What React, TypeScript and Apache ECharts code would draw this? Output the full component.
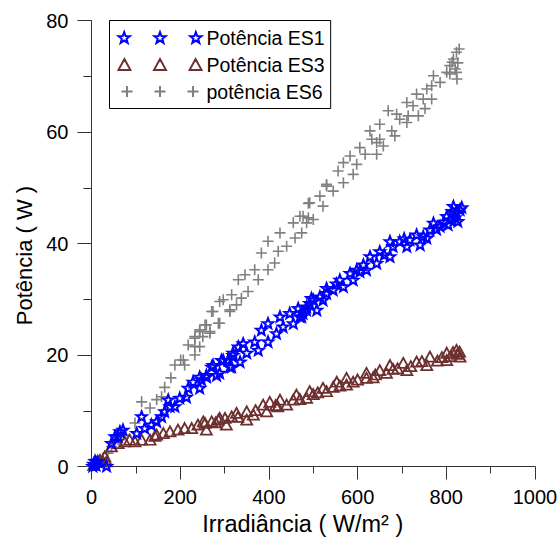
import React, { useEffect, useRef } from "react";
import * as echarts from "echarts";

const X_TICKS = [0, 200, 400, 600, 800, 1000];
const Y_TICKS = [0, 20, 40, 60, 80];
const SERIES_NAMES = ["Potência ES1", "Potência ES3", "potência ES6"];
const X_TITLE = "Irradiância ( W/m² )";
const Y_TITLE = "Potência ( W )";

// ES1 (blue stars) [irradiance, power]
const es1: number[][] = [
  [3, 0.1], [5, 0.5], [8, 1.0], [10, 0.3], [14, 0.9], [34, 0.1], [45, 4.2], [53, 5.4], [60, 5.4], [64, 6.3],
  [71, 6.6], [102, 6.0], [113, 9.0], [120, 6.9], [135, 7.5], [147, 8.1], [158, 9.0], [165, 9.9],
  [173, 12.0], [177, 10.8], [188, 10.8], [199, 12.3], [214, 12.5], [218, 14.1], [229, 15.2],
  [244, 14.1], [248, 15.6], [259, 16.1], [244, 16.1], [259, 16.4], [271, 17.9], [274, 18.2],
  [282, 16.4], [289, 16.8], [293, 19.1], [297, 19.1], [308, 19.1], [312, 17.9], [316, 17.9],
  [319, 20.4], [319, 20.0], [331, 21.5], [335, 18.8], [342, 22.1], [350, 20.4], [368, 22.4],
  [376, 20.9], [383, 24.5], [398, 22.4], [398, 25.7], [417, 23.9], [425, 26.9], [432, 25.1],
  [447, 27.5], [455, 25.7], [466, 28.4], [470, 26.9], [474, 26.9], [477, 27.5], [485, 28.7],
  [485, 28.1], [496, 30.2], [500, 29.9], [508, 28.1], [515, 30.5], [522, 29.9], [530, 32.0],
  [530, 31.1], [545, 31.7], [560, 33.5], [568, 32.3], [583, 34.7], [590, 33.5], [598, 35.3],
  [613, 36.2], [620, 35.3], [628, 37.7], [643, 36.5], [650, 38.6], [673, 37.7], [673, 40.4],
  [680, 39.5], [695, 40.4], [711, 39.5], [718, 40.7], [733, 41.6], [741, 39.8], [756, 41.0],
  [763, 42.5], [771, 43.7], [786, 43.1], [801, 44.9], [816, 46.7], [823, 45.5], [831, 46.1],
  [820, 44.7], [808, 44.3], [826, 44.0], [835, 46.5], [804, 43.4], [813, 45.8], [794, 43.9],
  [778, 42.6], [748, 41.3], [705, 40.9], [660, 38.0], [605, 35.0], [552, 32.8], [492, 29.3],
];

// ES3 (brown triangles)
const es3: number[][] = [
  [5, 0.3], [12, 0.8], [19, 1.2], [25, 1.0], [34, 0.9], [30, 1.8], [45, 3.6], [60, 4.2], [75, 4.5],
  [86, 4.8], [98, 4.5], [113, 4.8], [132, 4.8], [143, 5.5], [147, 5.7], [162, 6.0], [177, 6.3],
  [195, 6.6], [210, 6.9], [226, 6.9], [240, 7.5], [256, 7.8], [271, 8.1], [286, 8.4], [301, 8.7],
  [316, 9.0], [252, 8.1], [289, 8.7], [327, 9.6], [350, 9.9], [387, 11.1], [402, 11.6],
  [425, 12.0], [462, 12.9], [492, 13.5], [522, 14.1], [553, 15.2], [575, 15.9], [620, 16.8],
  [650, 17.3], [673, 18.2], [703, 18.6], [733, 18.8], [763, 19.7], [801, 20.4], [823, 20.9],
  [259, 6.6], [304, 7.5], [350, 8.4], [395, 9.9], [440, 11.1], [485, 12.3], [530, 13.5],
  [575, 14.7], [620, 15.9], [665, 16.8], [711, 17.3], [756, 18.2], [801, 19.1], [831, 19.7],
  [370, 10.1], [415, 11.0], [455, 12.0], [510, 13.3], [545, 14.3], [600, 15.6], [640, 16.5],
  [690, 17.6], [720, 18.0], [780, 19.0], [810, 19.8], [825, 20.2], [815, 20.5], [830, 20.6],
  [280, 7.9], [330, 8.9], [365, 9.3], [420, 10.8], [470, 12.1], [500, 13.0], [560, 14.5],
  [590, 15.2], [635, 16.0], [680, 17.5], [745, 18.9], [790, 19.6],
];

// ES6 (grey plus)
const es6: number[][] = [
  [1, 0.1], [7, 0.4], [14, 0.8], [19, 1.2], [25, 1.5], [37, 2.4], [45, 3.6], [60, 4.8], [75, 5.7],
  [98, 7.8], [113, 11.6], [132, 10.5], [147, 12.0], [158, 12.5], [165, 14.2], [179, 15.9],
  [188, 18.2], [201, 19.1], [210, 18.2], [218, 21.8], [233, 23.3], [244, 24.2], [256, 25.4],
  [271, 27.8], [289, 29.6], [233, 21.5], [251, 23.3], [267, 24.2], [286, 25.7], [312, 28.1],
  [207, 19.1], [233, 20.0], [244, 21.5], [233, 23.0], [267, 23.9], [244, 24.5], [259, 25.4],
  [289, 25.7], [274, 27.8], [312, 27.8], [327, 29.0], [297, 29.9], [338, 30.2], [316, 30.8],
  [353, 31.4], [331, 33.5], [376, 33.5], [346, 34.4], [368, 35.3], [398, 35.3], [413, 36.5],
  [383, 38.3], [421, 38.6], [440, 39.5], [398, 40.4], [459, 41.0], [425, 41.9], [474, 41.9],
  [455, 43.7], [470, 44.9], [489, 44.6], [489, 47.2], [522, 46.7], [515, 48.5], [530, 50.6],
  [485, 43.7], [500, 44.3], [477, 44.9], [492, 47.3], [545, 49.4], [530, 50.3], [568, 50.9],
  [556, 53.0], [590, 52.4], [598, 54.2], [568, 54.5], [583, 55.7], [617, 56.0], [643, 56.0],
  [605, 57.2], [658, 57.5], [643, 58.1], [632, 58.7], [650, 58.7], [684, 59.3], [628, 60.2],
  [677, 60.2], [650, 61.4], [711, 61.7], [695, 62.3], [737, 62.9], [714, 62.9], [688, 63.2],
  [669, 63.8], [752, 64.2], [725, 64.7], [711, 65.3], [767, 65.9], [748, 65.9], [733, 66.8],
  [756, 67.7], [767, 68.3], [786, 68.9], [771, 70.1], [801, 70.7], [823, 70.7], [808, 71.9],
  [816, 73.1], [823, 74.3], [808, 70.4], [820, 71.3], [826, 72.4], [813, 72.5], [824, 69.5],
  [829, 74.9],
];

const FONT = "Arial, 'Liberation Sans', sans-serif";
const BLUE = "#0000ff";
const BROWN = "#6e2f2f";
const GREY = "#808080";
const AXIS_COLOR = "#333333";

function starPts(cx: number, cy: number, R: number, r: number): string {
  let s = "";
  for (let i = 0; i < 10; i++) {
    const rad = i % 2 === 0 ? R : r;
    const a = -Math.PI / 2 + (i * Math.PI) / 5;
    const x = cx + rad * Math.cos(a);
    const y = cy + rad * Math.sin(a);
    s += (i === 0 ? "M" : "L") + x.toFixed(2) + " " + y.toFixed(2) + " ";
  }
  return s + "Z ";
}

const STAR_SYMBOL = "path://" + starPts(0, 0, 10, 4.2);
const PLUS_SYMBOL = "path://M-6 0 L6 0 M0 -6 L0 6";
const SPACING = 33;
const legendStar =
  "path://" + [0, 1, 2].map((i) => starPts(5.5 + i * SPACING, 5.5, 5.5, 2.3)).join("");
const legendTri =
  "path://" +
  [0, 1, 2]
    .map((i) => {
      const cx = 5.5 + i * SPACING;
      return `M${cx - 5.5} 10.5 L${cx} 0.5 L${cx + 5.5} 10.5 Z `;
    })
    .join("");
const legendPlus =
  "path://" +
  [0, 1, 2]
    .map((i) => {
      const cx = 5.5 + i * SPACING;
      return `M${cx - 5.5} 5.5 L${cx + 5.5} 5.5 M${cx} 0 L${cx} 11 `;
    })
    .join("");

export default function App() {
  const ref = useRef<HTMLDivElement>(null);
  useEffect(() => {
    if (!ref.current) return;
    const chart = echarts.init(ref.current, undefined, { renderer: "svg" });
    const axisCommon = {
      axisLine: { show: true, lineStyle: { color: AXIS_COLOR, width: 1 } },
      axisTick: { show: true, inside: false, length: 13, lineStyle: { color: AXIS_COLOR } },
      minorTick: { show: true, splitNumber: 2, length: 7, lineStyle: { color: AXIS_COLOR } },
      splitLine: { show: false },
      axisLabel: {
        color: "#000",
        fontSize: 20,
        fontFamily: FONT,
        formatter: (v: number) => String(v),
      },
    };
    chart.setOption({
      animation: false,
      backgroundColor: "#ffffff",
      grid: {
        left: 91.5,
        top: 20.5,
        width: 443.5,
        height: 446,
        containLabel: false,
        outerBoundsMode: "none",
      },
      xAxis: {
        type: "value",
        min: X_TICKS[0],
        max: X_TICKS[X_TICKS.length - 1],
        interval: X_TICKS[1] - X_TICKS[0],
        ...axisCommon,
        axisLabel: { ...axisCommon.axisLabel, margin: 20 },
        name: X_TITLE,
        nameLocation: "middle",
        nameGap: 45,
        nameTextStyle: { color: "#000", fontSize: 23.5, fontFamily: FONT, padding: [0, 21, 0, 0] },
      },
      yAxis: {
        type: "value",
        min: Y_TICKS[0],
        max: Y_TICKS[Y_TICKS.length - 1],
        interval: Y_TICKS[1] - Y_TICKS[0],
        ...axisCommon,
        axisTick: { ...axisCommon.axisTick, length: 14 },
        minorTick: { ...axisCommon.minorTick, length: 8 },
        axisLabel: { ...axisCommon.axisLabel, margin: 23 },
        name: Y_TITLE,
        nameLocation: "middle",
        nameGap: 56,
        nameTextStyle: { color: "#000", fontSize: 22, fontFamily: FONT, padding: [0, 24, 0, 0] },
      },
      legend: {
        show: true,
        orient: "vertical",
        left: 109.5,
        top: 20.5,
        padding: [7, 6, 7, 8],
        itemGap: 7,
        itemWidth: 83,
        itemHeight: 11,
        borderColor: "#000",
        borderWidth: 1,
        selectedMode: false,
        textStyle: { color: "#000", fontSize: 19.5, fontFamily: FONT, lineHeight: 20 },
        data: [
          { name: SERIES_NAMES[0], icon: legendStar },
          { name: SERIES_NAMES[1], icon: legendTri },
          { name: SERIES_NAMES[2], icon: legendPlus },
        ],
      },
      series: [
        {
          name: SERIES_NAMES[2],
          type: "scatter",
          data: es6,
          symbol: PLUS_SYMBOL,
          symbolSize: 11,
          itemStyle: { color: "transparent", borderColor: GREY, borderWidth: 1.6, opacity: 1 },
          emphasis: { disabled: true },
          silent: true,
          z: 2,
        },
        {
          name: SERIES_NAMES[1],
          type: "scatter",
          data: es3,
          symbol: "triangle",
          symbolSize: [11, 10],
          itemStyle: { color: "transparent", borderColor: BROWN, borderWidth: 1.8, opacity: 1 },
          emphasis: { disabled: true },
          silent: true,
          z: 3,
        },
        {
          name: SERIES_NAMES[0],
          type: "scatter",
          data: es1,
          symbol: STAR_SYMBOL,
          symbolSize: [10.5, 10],
          itemStyle: { color: "transparent", borderColor: BLUE, borderWidth: 2, opacity: 1 },
          emphasis: { disabled: true },
          silent: true,
          z: 4,
        },
      ],
    });
    return () => chart.dispose();
  }, []);
  return (
    <div
      ref={ref}
      style={{ position: "absolute", left: 0, top: 0, width: 559, height: 538, background: "#fff" }}
    />
  );
}
